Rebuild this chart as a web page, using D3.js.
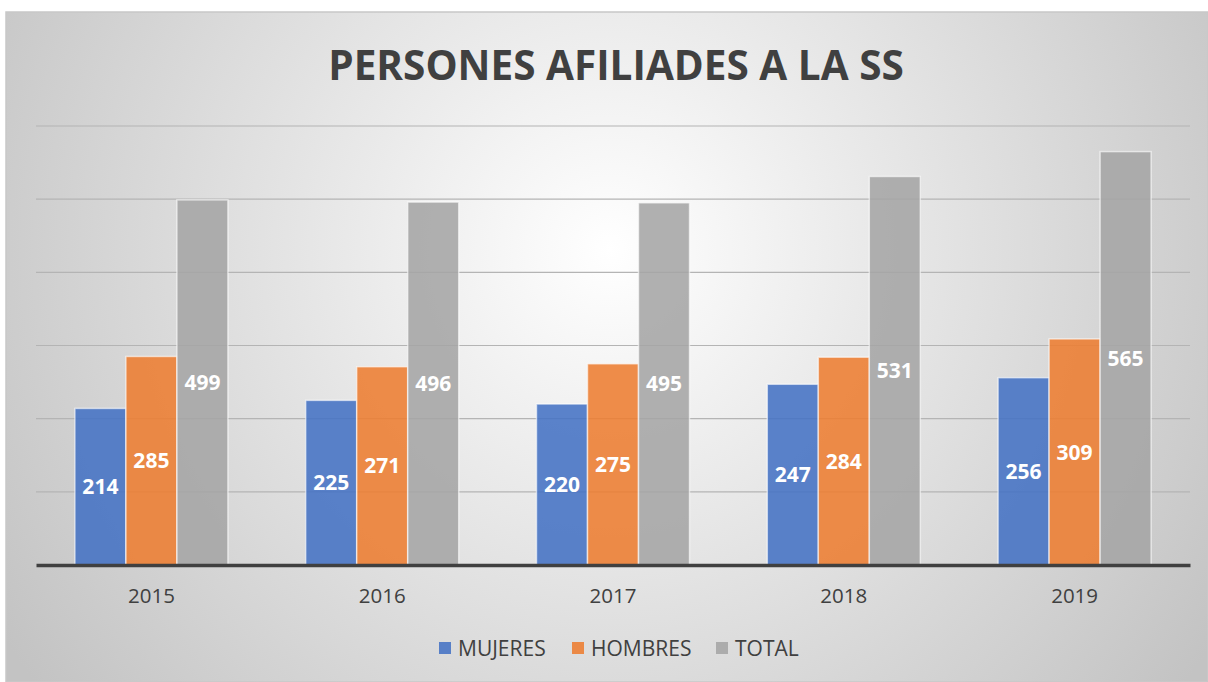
<!DOCTYPE html>
<html>
<head>
<meta charset="utf-8">
<script src="https://cdn.jsdelivr.net/npm/d3@7"></script>
<style>
  html, body { margin: 0; padding: 0; background: #fff; }
  svg text { font-family: "Open Sans", "Liberation Sans", sans-serif; }
</style>
</head>
<body>
<div id="chart"></div>
<script>
// Chart size
const width = 1208, height = 682;

// Data
const years = ["2015", "2016", "2017", "2018", "2019"];
const seriesNames = ["MUJERES", "HOMBRES", "TOTAL"];
const mujeres = [214, 225, 220, 247, 256];
const hombres = [285, 271, 275, 284, 309];
const total = [499, 496, 495, 531, 565];
const yTicks = [0, 100, 200, 300, 400, 500, 600];

const colors = ["#4472C4", "#ED7D31", "#A5A5A5"];
const seriesValues = [mujeres, hombres, total];

const svg = d3.select("#chart").append("svg")
  .attr("width", width)
  .attr("height", height);

// Background gradient like the spreadsheet chart area
const defs = svg.append("defs");
const grad = defs.append("radialGradient")
  .attr("id", "bg")
  .attr("gradientUnits", "userSpaceOnUse")
  .attr("cx", 610).attr("cy", 250).attr("r", 720);
grad.append("stop").attr("offset", "0%").attr("stop-color", "#ffffff");
grad.append("stop").attr("offset", "100%").attr("stop-color", "#c3c3c3");

svg.append("rect")
  .attr("x", 6).attr("y", 12)
  .attr("width", width - 6).attr("height", height - 12)
  .attr("fill", "url(#bg)")
  .attr("stroke", "#c8c8c8")
  .attr("stroke-width", 1.5);

// Scales
const plotLeft = 36, plotRight = 1190;
const x0 = d3.scaleBand()
  .domain(years)
  .range([plotLeft, plotRight])
  .paddingInner(0.337)
  .paddingOuter(0.1685);

const x1 = d3.scaleBand()
  .domain(seriesNames)
  .range([0, x0.bandwidth()]);

const y = d3.scaleLinear()
  .domain([0, 600])
  .range([565, 126]);

// Gridlines
svg.append("g")
  .selectAll("line")
  .data(yTicks.slice(1))
  .enter()
  .append("line")
  .attr("x1", plotLeft)
  .attr("x2", plotRight)
  .attr("y1", d => y(d))
  .attr("y2", d => y(d))
  .attr("stroke", "#b4b4b4")
  .attr("stroke-width", 1.2);

// Title
svg.append("text")
  .attr("x", 616)
  .attr("y", 80)
  .attr("text-anchor", "middle")
  .style("font-size", "40.5px")
  .style("font-weight", "bold")
  .attr("fill", "#404040")
  .text("PERSONES AFILIADES A LA SS");

// Bars
const groups = svg.append("g")
  .selectAll("g")
  .data(years)
  .enter()
  .append("g")
  .attr("transform", d => `translate(${x0(d)},0)`);

groups.selectAll("rect")
  .data((d, i) => seriesNames.map((s, j) => ({ s, j, v: seriesValues[j][i] })))
  .enter()
  .append("rect")
  .attr("x", d => x1(d.s))
  .attr("y", d => y(d.v))
  .attr("width", x1.bandwidth())
  .attr("height", d => y(0) - y(d.v))
  .attr("fill", d => colors[d.j])
  .attr("fill-opacity", 0.88)
  .attr("stroke", "#ffffff")
  .attr("stroke-opacity", 0.6)
  .attr("stroke-width", 1.5);

groups.selectAll("text")
  .data((d, i) => seriesNames.map((s, j) => ({ s, j, v: seriesValues[j][i] })))
  .enter()
  .append("text")
  .attr("x", d => x1(d.s) + x1.bandwidth() / 2)
  .attr("y", d => (y(d.v) + y(0)) / 2)
  .attr("dy", "0.36em")
  .attr("text-anchor", "middle")
  .style("font-size", "21px")
  .style("font-weight", "bold")
  .attr("fill", "#ffffff")
  .text(d => d.v);

// X axis
const xAxis = svg.append("g")
  .attr("transform", `translate(0,${y(0)})`)
  .call(d3.axisBottom(x0).tickSize(0).tickPadding(23));
xAxis.select(".domain")
  .attr("stroke", "#404040")
  .attr("stroke-width", 3.5);
xAxis.selectAll("text")
  .style("font-size", "20.5px")
  .attr("fill", "#404040");

// Legend
const legendItems = [
  { name: "MUJERES", x: 439 },
  { name: "HOMBRES", x: 572 },
  { name: "TOTAL", x: 716 }
];
const legend = svg.append("g");
legendItems.forEach((item, i) => {
  legend.append("rect")
    .attr("x", item.x)
    .attr("y", 642)
    .attr("width", 12)
    .attr("height", 12)
    .attr("fill", colors[i])
    .attr("fill-opacity", 0.88);
  legend.append("text")
    .attr("x", item.x + 19)
    .attr("y", 656)
    .style("font-size", "21px")
    .attr("fill", "#404040")
    .text(item.name);
});
</script>
</body>
</html>
